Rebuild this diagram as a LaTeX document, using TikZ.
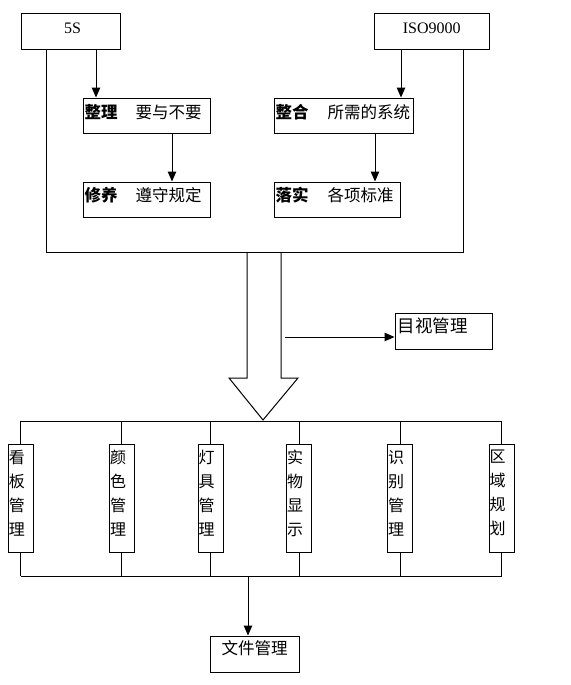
\documentclass[tikz,border=0pt]{standalone}
\usepackage{fontspec}
\setmainfont{Liberation Serif}
\newfontfamily\cjk{Noto Sans CJK SC}
\usetikzlibrary{arrows.meta}

\begin{document}
\begin{tikzpicture}[x=1pt,y=-1pt,line width=1pt,
    box/.style={draw,inner sep=0pt},
    txt/.style={inner sep=0pt,font=\cjk\fontsize{16.5}{16.5}\selectfont},
    lat/.style={inner sep=0pt,font=\fontsize{16}{16}\selectfont},
    vtxt/.style={inner sep=0pt,align=center,font=\cjk\fontsize{16}{24}\selectfont},
    arr/.style={-{Triangle[length=10pt,width=8.5pt]}}]
    \useasboundingbox (0,0) rectangle (570,685);

    % top sources
    \node[box,minimum width=99,minimum height=36] (s5) at (70.5,32) {};
    \node[box,minimum width=115,minimum height=36] (iso) at (431.5,32) {};
    \node[lat] (s5t) at (72.5,28) {5S};
    \node[lat] (isot) at (431.7,28) {ISO9000};

    % the four steps
    \node[box,minimum width=127,minimum height=35] (zl) at (146.5,115.5) {};
    \node[box,minimum width=127,minimum height=35] (xy) at (146.5,199.5) {};
    \node[box,minimum width=139,minimum height=35] (zh) at (343.5,115.5) {};
    \node[box,minimum width=126,minimum height=35] (ls) at (337,199.5) {};
    \node[txt,anchor=west] (zlt) at (84,112) {\textbf{整理}\hspace{18pt}要与不要};
    \node[txt,anchor=west] (xyt) at (84,195) {\textbf{修养}\hspace{18pt}遵守规定};
    \node[txt,anchor=west] (zht) at (275,112) {\textbf{整合}\hspace{19pt}所需的系统};
    \node[txt,anchor=west] (lst) at (275,195) {\textbf{落实}\hspace{19pt}各项标准};

    \coordinate (c1) at (96,0);
    \coordinate (c2) at (172,0);
    \coordinate (c3) at (401,0);
    \coordinate (c4) at (375,0);
    \draw[arr] (s5.south -| c1) -- (zl.north -| c1);
    \draw[arr] (zl.south -| c2) -- (xy.north -| c2);
    \draw[arr] (iso.south -| c3) -- (zh.north -| c3);
    \draw[arr] (zh.south -| c4) -- (ls.north -| c4);

    % outer frame
    \coordinate (fl) at (46,252);
    \coordinate (fr) at (463,252);
    \draw (s5.south -| fl) -- (fl) -- (fr) -- (iso.south -| fr);

    % big arrow
    \draw[line join=miter] (247,252) -- (247,378) -- (229,378) -- (263,420) -- (298,378) -- (281,378) -- (281,252);

    \node[box,minimum width=97,minimum height=36] (mv) at (443.5,331) {};
    \node[txt,anchor=west,font=\cjk\fontsize{17.5}{17.5}\selectfont] (mvt) at (397,326) {目视管理};
    \coordinate (m1) at (285,337);
    \draw[arr] (m1) -- (m1 -| mv.west);

    % six tools
    \node[box,minimum width=25,minimum height=108] (v1) at (20.5,498) {};
    \node[box,minimum width=25,minimum height=108] (v2) at (121.5,498) {};
    \node[box,minimum width=25,minimum height=108] (v3) at (210.5,498) {};
    \node[box,minimum width=25,minimum height=108] (v4) at (299,498) {};
    \node[box,minimum width=25,minimum height=108] (v5) at (400,498) {};
    \node[box,minimum width=25,minimum height=108] (v6) at (501.5,498) {};
    \node[vtxt] (v1t) at (17,493) {看\\板\\管\\理};
    \node[vtxt] (v2t) at (118,493) {颜\\色\\管\\理};
    \node[vtxt] (v3t) at (206.5,493) {灯\\具\\管\\理};
    \node[vtxt] (v4t) at (295,493) {实\\物\\显\\示};
    \node[vtxt] (v5t) at (396,493) {识\\别\\管\\理};
    \node[vtxt] (v6t) at (497.5,493) {区\\域\\规\\划};

    \coordinate (bt) at (0,421);
    \coordinate (bb) at (0,576);
    \draw (v1 |- bt) -- (v6 |- bt);
    \draw (v1 |- bb) -- (v6 |- bb);
    \draw (v1 |- bt) -- (v1.north) (v1.south) -- (v1 |- bb);
    \draw (v2 |- bt) -- (v2.north) (v2.south) -- (v2 |- bb);
    \draw (v3 |- bt) -- (v3.north) (v3.south) -- (v3 |- bb);
    \draw (v4 |- bt) -- (v4.north) (v4.south) -- (v4 |- bb);
    \draw (v5 |- bt) -- (v5.north) (v5.south) -- (v5 |- bb);
    \draw (v6 |- bt) -- (v6.north) (v6.south) -- (v6 |- bb);

    \node[box,minimum width=89,minimum height=36] (wj) at (254.5,654) {};
    \node[txt,anchor=west] (wjt) at (221,648) {文件管理};
    \coordinate (b1) at (248,576);
    \draw[arr] (b1) -- (b1 |- wj.north);
\end{tikzpicture}
\end{document}
